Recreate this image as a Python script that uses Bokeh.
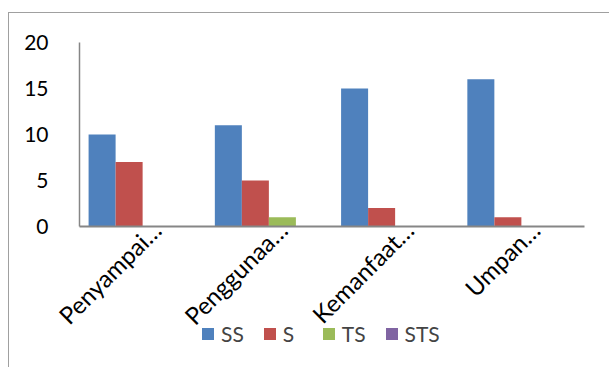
from bokeh.plotting import figure
from bokeh.models import ColumnDataSource, Range1d, Legend, LegendItem, FixedTicker
from bokeh.transform import dodge
from bokeh.embed import file_html
from bokeh.resources import INLINE
from math import pi

categories = ["Penyampai…", "Penggunaa…", "Kemanfaat…", "Umpan…"]
series = ["SS", "S", "TS", "STS"]
ss = [10, 11, 15, 16]
s = [7, 5, 2, 1]
ts = [0, 1, 0, 0]
sts = [0, 0, 0, 0]
colors = ["#4f81bd", "#c0504d", "#9bbb59", "#8064a2"]
y_ticks = [0, 5, 10, 15, 20]

ncat = len(categories)
xpos = [i + 0.5 for i in range(ncat)]
src = ColumnDataSource(dict(x=xpos, cat=categories, SS=ss, S=s, TS=ts, STS=sts))

# layout in window pixels: frame covers the whole figure; axes drawn at fixed spots
fig_left, fig_top, fig_right, fig_bottom = 8, 12, 609, 367
axis_left_px, axis_right_px = 78, 583
zero_px, top20_px = 225, 41
ymax_tick = 20
px_per_x = (axis_right_px - axis_left_px) / ncat
px_per_y = (zero_px - top20_px) / ymax_tick
x0 = -(axis_left_px - fig_left) / px_per_x
x1 = (fig_right - axis_left_px) / px_per_x
y0 = -(fig_bottom - zero_px) / px_per_y
y1 = ymax_tick + (top20_px - fig_top) / px_per_y

FONT = "Lato"
p = figure(x_range=Range1d(x0, x1), y_range=Range1d(y0, y1),
           width=fig_right - fig_left, height=fig_bottom - fig_top,
           output_backend="svg", toolbar_location=None,
           min_border_left=0, min_border_top=0, min_border_right=0, min_border_bottom=0,
           margin=(fig_top, 0, 0, fig_left))
p.styles = {"border-top": "1px solid #a0a0a0", "border-left": "1px solid #a0a0a0"}

bw = 0.214
offsets = [-1.5 * bw, -0.5 * bw, 0.5 * bw, 1.5 * bw]
items = []
for name, off, col in zip(series, offsets, colors):
    r = p.vbar(x=dodge("x", off), top=name, bottom=0, width=bw, source=src,
               fill_color=col, line_color=None)
    items.append(LegendItem(label=name, renderers=[r]))

p.xgrid.visible = False
p.ygrid.visible = False
p.outline_line_color = None
p.background_fill_color = "white"
p.border_fill_color = "white"

label_shift = 0.11
p.xaxis.ticker = FixedTicker(ticks=[x + label_shift for x in xpos])
p.xaxis.major_label_overrides = {x + label_shift: c for x, c in zip(xpos, categories)}
p.xaxis.bounds = (0, ncat)
p.xaxis.fixed_location = 0
p.yaxis.ticker = FixedTicker(ticks=y_ticks)
p.yaxis.bounds = (0, ymax_tick)
p.yaxis.fixed_location = 0
for ax in (p.xaxis[0], p.yaxis[0]):
    ax.axis_line_color = "#868686"
    ax.major_tick_line_color = None
    ax.minor_tick_line_color = None
    ax.major_label_text_font = FONT
    ax.major_label_text_color = "black"
p.xaxis.major_label_text_font_size = "24px"
p.yaxis.major_label_text_font_size = "21px"
p.xaxis.axis_line_width = 2
p.yaxis.axis_line_width = 1.5
p.yaxis.major_label_standoff = 25
p.xaxis.major_label_standoff = -7
p.xaxis.major_label_orientation = pi / 4

legend = Legend(items=items, orientation="horizontal", location=(191, 22),
                label_text_font=FONT, label_text_font_size="21px",
                glyph_width=15, glyph_height=15, label_standoff=6, spacing=18,
                padding=0, margin=0, border_line_color=None, background_fill_alpha=0)
p.add_layout(legend, "center")

open("out.html", "w").write(file_html(p, INLINE))
